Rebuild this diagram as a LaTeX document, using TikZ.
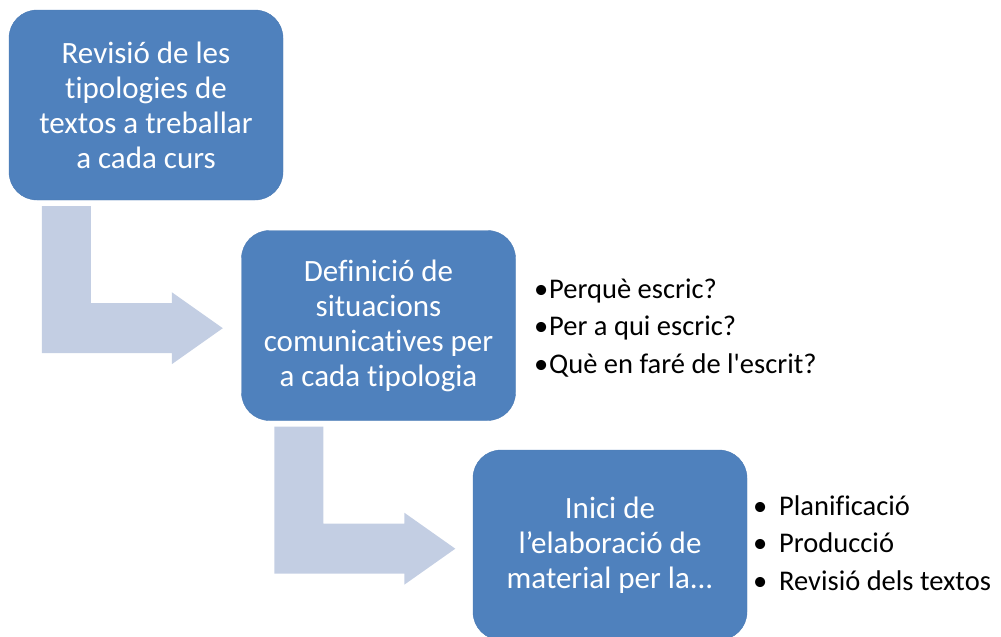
\documentclass[tikz,border=0pt]{standalone}
\usepackage{fontspec}
\setmainfont{Carlito}[Ligatures=NoCommon]
\usetikzlibrary{calc}
\definecolor{blau}{RGB}{79,129,189}
\definecolor{blauRand}{RGB}{74,122,180}
\definecolor{pfeilblau}{RGB}{195,206,227}
\tikzstyle{etapa} = [rectangle,rounded corners=28pt,fill=blau,draw=blauRand,thin,text=white,minimum width=274pt,minimum height=190pt,align=center,inner sep=0pt,font=\fontsize{31}{35}\selectfont]
\tikzstyle{punt} = [anchor=base west,inner sep=0pt,font=\fontsize{28.5}{30}\selectfont]
\tikzstyle{pfeil} = [fill=pfeilblau,draw=none]
\begin{document}
\begin{tikzpicture}[x=1pt,y=-1pt]
\useasboundingbox (0,0) rectangle (1001,637);

\node[etapa] (E1) at (146,105) {
	Revisió de les\\tipologies de\\textos a treballar\\a cada curs
};
\node[etapa] (E2) at (378.5,325.5) {
	Definició de\\situacions\\comunicatives per\\a cada tipologia
};
\node[etapa] (E3) at (610,545) {
	Inici de\\l’elaboració de\\material per la...
};

% bent arrows
\fill[pfeil] ($(E1.south west)+(33,6)$) -- ++(49,0) -- ++(0,97) -- ++(81,0) -- ++(0,-11)
	-- ++(51,36) -- ++(-51,36) -- ++(0,-11) -- ++(-130,0) -- cycle;
\fill[pfeil] ($(E2.south west)+(33,6)$) -- ++(49,0) -- ++(0,97) -- ++(81,0) -- ++(0,-11)
	-- ++(51,36) -- ++(-51,36) -- ++(0,-11) -- ++(-130,0) -- cycle;

% questions
\node[punt] (Q1) at (549,298) {\llap{•\hspace{1pt}}Perquè escric?};
\node[punt] (Q2) at (549,335.5) {\llap{•\hspace{1pt}}Per a qui escric?};
\node[punt] (Q3) at (549,373) {\llap{•\hspace{1pt}}Què en faré de l\textquotesingle escrit?};

% phases
\node[punt] (F1) at (779,515) {\llap{•\hspace{12pt}}Planificació};
\node[punt] (F2) at (779,552.5) {\llap{•\hspace{12pt}}Producció};
\node[punt] (F3) at (779,590) {\llap{•\hspace{12pt}}Revisió dels textos};
\end{tikzpicture}
\end{document}
